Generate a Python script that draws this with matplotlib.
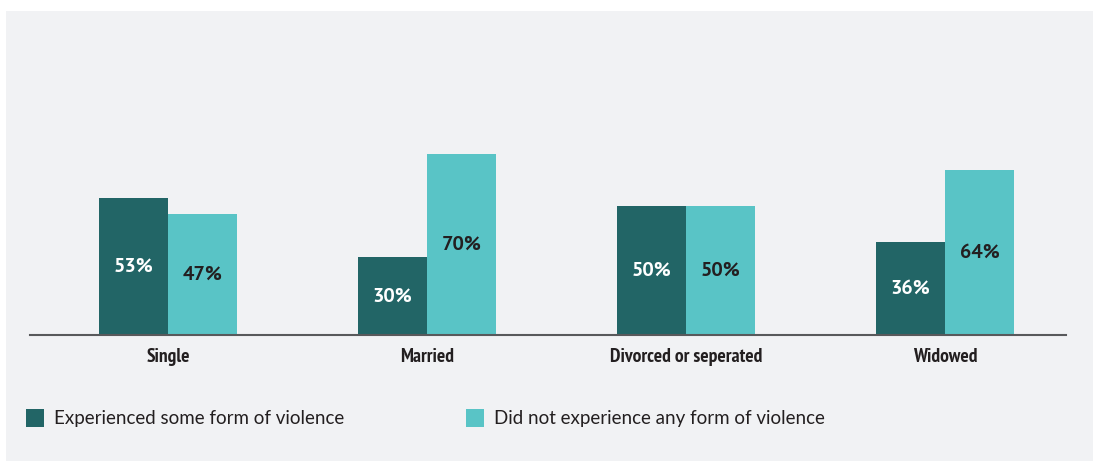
import matplotlib.pyplot as plt
from matplotlib.patches import Rectangle
import numpy as np

categories = ['Single', 'Married', 'Divorced or seperated', 'Widowed']
experienced = [53, 30, 50, 36]
not_experienced = [47, 70, 50, 64]
series_names = ['Experienced some form of violence',
                'Did not experience any form of violence']

dark = '#226566'
light = '#59c4c6'
panel = '#f1f2f4'
ink = '#231f20'

W, H = 1093, 461
fig = plt.figure(figsize=(W / 100, H / 100), dpi=100)
fig.patch.set_facecolor('white')

# grey panel behind everything
fig.patches.append(Rectangle((6 / W, 0), 1 - 6 / W, 1 - 11 / H,
                             transform=fig.transFigure, facecolor=panel,
                             edgecolor='none', zorder=-10))

# axes area: left 30px, right 1066px, baseline at y=335px
ax_top = 60
ax = fig.add_axes([30 / W, (H - 335) / H, (1066 - 30) / W, (335 - ax_top) / H])
ax.set_facecolor('none')
ax.set_zorder(5)

x = np.arange(len(categories))
w = 0.266
b1 = ax.bar(x - w / 2, experienced, w, color=dark)
b2 = ax.bar(x + w / 2, not_experienced, w, color=light)

for bars, vals, col in [(b1, experienced, 'white'), (b2, not_experienced, ink)]:
    for rect, v in zip(bars, vals):
        ax.text(rect.get_x() + rect.get_width() / 2, v / 2, f'{v}%',
                ha='center', va='center', color=col, fontsize=14.5,
                fontweight='bold', family='PT Sans')

ax.set_xlim(-0.533, 3.467)
ax.set_ylim(0, (335 - ax_top) / 2.585)
ax.set_xticks(x)
ax.set_xticklabels(categories, fontsize=14, fontweight='bold',
                   color=ink, family='PT Sans Narrow')
ax.tick_params(axis='x', length=0, pad=9)
ax.set_yticks([])
for s in ['top', 'right', 'left']:
    ax.spines[s].set_visible(False)
ax.spines['bottom'].set_color('#58595b')
ax.spines['bottom'].set_linewidth(1.5)

# legend
for (lx, tx), name, col in zip([(26, 54), (466, 494)], series_names, [dark, light]):
    fig.patches.append(Rectangle((lx / W, (H - 427) / H), 18 / W, 18 / H,
                                 transform=fig.transFigure, facecolor=col,
                                 edgecolor='none'))
    fig.text(tx / W, (H - 418) / H, name, ha='left', va='center',
             fontsize=13.5, color=ink, family='Lato')

fig.savefig('out.png', dpi=100, facecolor=fig.get_facecolor())
